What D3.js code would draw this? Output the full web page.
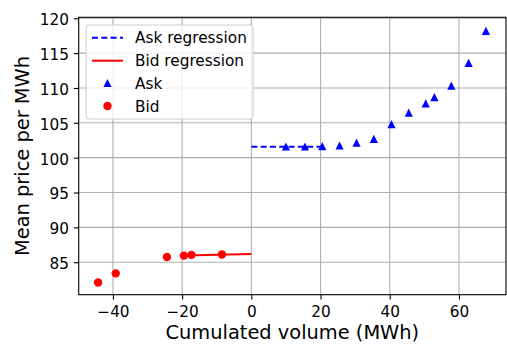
<!DOCTYPE html>
<html>
<head>
<meta charset="utf-8">
<script src="https://cdn.jsdelivr.net/npm/d3@7"></script>
<style>
  html, body { margin: 0; padding: 0; background: #fff; }
  svg { display: block; font-family: "DejaVu Sans", sans-serif; }
</style>
</head>
<body>
<svg id="chart"></svg>
<script>
// values
const askVolume = [10.0, 15.5, 20.5, 25.5, 30.4, 35.4, 40.5, 45.5, 50.4, 52.9, 57.8, 62.8, 67.8];
const askPrice  = [101.6, 101.6, 101.65, 101.75, 102.15, 102.7, 104.8, 106.45, 107.8, 108.7, 110.35, 113.6, 118.2];
const bidVolume = [-44.3, -39.2, -24.4, -19.5, -17.3, -8.5];
const bidPrice  = [82.1, 83.4, 85.75, 85.95, 86.05, 86.1];
const askRegVolume = [0, 20.5];
const askRegPrice  = [101.55, 101.55];
const bidRegVolume = [-19.5, 0];
const bidRegPrice  = [85.98, 86.18];
const xTicks = [-40, -20, 0, 20, 40, 60];
const yTicks = [85, 90, 95, 100, 105, 110, 115, 120];

const svgWidth = 507;
const svgHeight = 345;
const padding = {top: 17.3, left: 78.7, right: 1, bottom: 50.3};

const svg = d3.select("#chart")
  .attr("width", svgWidth)
  .attr("height", svgHeight);

const x = d3.scaleLinear()
  .domain([-49.9, 73.6])
  .range([padding.left, svgWidth - padding.right]);

const y = d3.scaleLinear()
  .domain([80.34, 120.14])
  .range([svgHeight - padding.bottom, padding.top]);

const grey = "#b0b0b0";
const blue = "#0000ff";
const red = "#ff0000";

// grid
svg.append("g")
  .selectAll("line")
  .data(xTicks)
  .join("line")
  .attr("x1", d => x(d)).attr("x2", d => x(d))
  .attr("y1", y.range()[0]).attr("y2", y.range()[1])
  .attr("stroke", grey).attr("stroke-width", 1.1);

svg.append("g")
  .selectAll("line")
  .data(yTicks)
  .join("line")
  .attr("x1", x.range()[0]).attr("x2", x.range()[1])
  .attr("y1", d => y(d)).attr("y2", d => y(d))
  .attr("stroke", grey).attr("stroke-width", 1.1);

const line = d3.line().x(d => x(d[0])).y(d => y(d[1]));

// regressions
svg.append("path")
  .attr("d", line(d3.zip(askRegVolume, askRegPrice)))
  .attr("stroke", blue)
  .attr("stroke-width", 2)
  .attr("stroke-dasharray", "6,3.3")
  .attr("fill", "none");

svg.append("path")
  .attr("d", line(d3.zip(bidRegVolume, bidRegPrice)))
  .attr("stroke", red)
  .attr("stroke-width", 2)
  .attr("fill", "none");

// points
function triPath(cx, cy, r) {
  return `M${cx},${cy - r}L${cx + r},${cy + r}L${cx - r},${cy + r}Z`;
}

svg.append("g")
  .selectAll("path")
  .data(d3.zip(askVolume, askPrice))
  .join("path")
  .attr("d", d => triPath(x(d[0]), y(d[1]), 4.1))
  .attr("fill", blue);

svg.append("g")
  .selectAll("circle")
  .data(d3.zip(bidVolume, bidPrice))
  .join("circle")
  .attr("cx", d => x(d[0]))
  .attr("cy", d => y(d[1]))
  .attr("r", 4.2)
  .attr("fill", red);

// axes
const xAxis = svg.append("g")
  .attr("transform", `translate(0, ${svgHeight - padding.bottom})`)
  .call(d3.axisBottom(x).tickValues(xTicks).tickSize(4.9).tickPadding(6.3).tickSizeOuter(0));
const yAxis = svg.append("g")
  .attr("transform", `translate(${padding.left}, 0)`)
  .call(d3.axisLeft(y).tickValues(yTicks).tickSize(4.9).tickPadding(4.9).tickSizeOuter(0));

[xAxis, yAxis].forEach(a => {
  a.select(".domain").remove();
  a.selectAll("text").attr("font-size", "15.3px").attr("fill", "#000").attr("font-family", "DejaVu Sans");
  a.selectAll("line").attr("stroke", "#000").attr("stroke-width", 1.1);
});
yAxis.selectAll("text").attr("dy", "0.42em");

// spines
svg.append("rect")
  .attr("x", x.range()[0]).attr("y", y.range()[1])
  .attr("width", x.range()[1] - x.range()[0])
  .attr("height", y.range()[0] - y.range()[1])
  .attr("fill", "none")
  .attr("stroke", "#000")
  .attr("stroke-width", 1.1);

// axis labels
svg.append("text")
  .attr("x", (x.range()[0] + x.range()[1]) / 2)
  .attr("y", 338.7)
  .attr("text-anchor", "middle")
  .style("font-size", "19.4px")
  .text("Cumulated volume (MWh)");

svg.append("text")
  .attr("text-anchor", "middle")
  .style("font-size", "19.4px")
  .attr("transform", `translate(29.3, ${(y.range()[0] + y.range()[1]) / 2}) rotate(-90)`)
  .text("Mean price per MWh");

// legend
const legend = svg.append("g").attr("class", "legend");
legend.append("rect")
  .attr("x", 86).attr("y", 25)
  .attr("width", 167).attr("height", 94)
  .attr("rx", 3)
  .attr("fill", "#fff").attr("fill-opacity", 0.8)
  .attr("stroke", "#cccccc").attr("stroke-width", 1);

const legendVals = ["Ask regression", "Bid regression", "Ask", "Bid"];
const legendY = [37.7, 60.7, 83, 106];

legend.append("line")
  .attr("x1", 92).attr("x2", 123).attr("y1", legendY[0]).attr("y2", legendY[0])
  .attr("stroke", blue).attr("stroke-width", 2).attr("stroke-dasharray", "6,3.3");
legend.append("line")
  .attr("x1", 92).attr("x2", 123).attr("y1", legendY[1]).attr("y2", legendY[1])
  .attr("stroke", red).attr("stroke-width", 2);
legend.append("path")
  .attr("d", triPath(107.5, legendY[2], 4.1))
  .attr("fill", blue);
legend.append("circle")
  .attr("cx", 107.5).attr("cy", legendY[3]).attr("r", 4.2)
  .attr("fill", red);

legend.selectAll("text")
  .data(legendVals)
  .join("text")
  .attr("x", 135)
  .attr("y", (d, i) => legendY[i])
  .attr("dy", "0.36em")
  .style("font-size", "15.3px")
  .text(d => d);
</script>
</body>
</html>
